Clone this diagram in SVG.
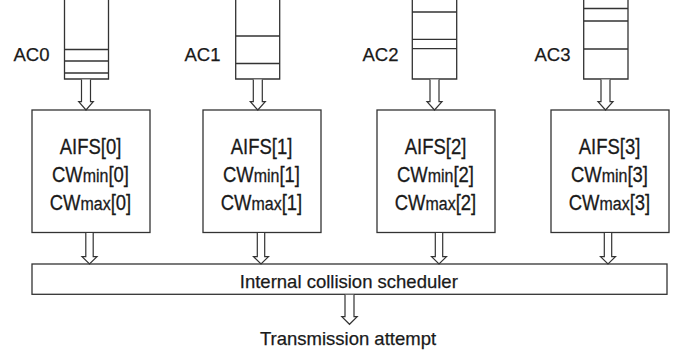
<svg xmlns="http://www.w3.org/2000/svg" width="679" height="356" viewBox="0 0 679 356">
<style>
.ln{fill:none;stroke:#333;stroke-width:1.3}
.bx{fill:#fff;stroke:#333;stroke-width:1.3}
.ar{fill:#fff;stroke:#333;stroke-width:1.2;stroke-linejoin:miter}
.t{font-family:"Liberation Sans",Arial,sans-serif;font-size:18.5px;fill:#1a1a1a;stroke:#1a1a1a;stroke-width:0.25}
.p{font-family:"Liberation Sans",Arial,sans-serif;font-size:22px;fill:#1a1a1a;stroke:#1a1a1a;stroke-width:0.3;text-anchor:middle}
.s{font-size:19px}
</style>
<rect width="679" height="356" fill="#fff"/>
<g id="queue0">
<path class="ln" d="M64.5,0V79H108.5V0M64.5,49.5H108.5M64.5,61H108.5M64.5,73H108.5"/>
<text class="t" x="49.5" y="60.5" text-anchor="end">AC0</text>
</g>
<g id="queue1">
<path class="ln" d="M235.7,0V79H279.7V0M235.7,36H279.7M235.7,63.5H279.7"/>
<text class="t" x="220.5" y="60.5" text-anchor="end">AC1</text>
</g>
<g id="queue2">
<path class="ln" d="M412.3,0V79H456.7V0M412.3,12H456.7M412.3,39.3H456.7M412.3,48.7H456.7"/>
<text class="t" x="398.5" y="60.5" text-anchor="end">AC2</text>
</g>
<g id="queue3">
<path class="ln" d="M583.7,0V79H628V0M583.7,8.5H628M583.7,21H628M583.7,49H628"/>
<text class="t" x="570.5" y="60.5" text-anchor="end">AC3</text>
</g>
<g id="box0">
<rect class="bx" x="32" y="110" width="118" height="122.5"/>
<g transform="translate(90.5,0) scale(0.84,1)">
<text class="p" x="0" y="154.5">AIFS[0]</text>
<text class="p" x="0" y="182.5">CW<tspan class="s">min</tspan>[0]</text>
<text class="p" x="0" y="210">CW<tspan class="s">max</tspan>[0]</text>
</g>
</g>
<g id="box1">
<rect class="bx" x="203" y="110" width="118" height="122.5"/>
<g transform="translate(261.5,0) scale(0.84,1)">
<text class="p" x="0" y="154.5">AIFS[1]</text>
<text class="p" x="0" y="182.5">CW<tspan class="s">min</tspan>[1]</text>
<text class="p" x="0" y="210">CW<tspan class="s">max</tspan>[1]</text>
</g>
</g>
<g id="box2">
<rect class="bx" x="377" y="110" width="118" height="122.5"/>
<g transform="translate(435.5,0) scale(0.84,1)">
<text class="p" x="0" y="154.5">AIFS[2]</text>
<text class="p" x="0" y="182.5">CW<tspan class="s">min</tspan>[2]</text>
<text class="p" x="0" y="210">CW<tspan class="s">max</tspan>[2]</text>
</g>
</g>
<g id="box3">
<rect class="bx" x="551" y="110" width="118" height="122.5"/>
<g transform="translate(609.5,0) scale(0.84,1)">
<text class="p" x="0" y="154.5">AIFS[3]</text>
<text class="p" x="0" y="182.5">CW<tspan class="s">min</tspan>[3]</text>
<text class="p" x="0" y="210">CW<tspan class="s">max</tspan>[3]</text>
</g>
</g>
<g id="scheduler">
<rect class="bx" x="32" y="264" width="635" height="30.3"/>
<text class="t" x="348.8" y="287.5" text-anchor="middle">Internal collision scheduler</text>
</g>
<g id="output">
<text class="t" x="348" y="345" text-anchor="middle">Transmission attempt</text>
</g>
<g id="connectors">
<path class="ar" d="M81.5,79.5V101.7H78.7L86,110L93.3,101.7H90.5V79.5"/>
<path class="ar" d="M253.3,79.5V101.7H250.3L257.8,110L265.3,101.7H262.3V79.5"/>
<path class="ar" d="M430,79.5V101.7H427L434.5,110L442,101.7H439V79.5"/>
<path class="ar" d="M601,79.5V101.7H598L605.5,110L613,101.7H610V79.5"/>
<path class="ar" d="M85.8,233V256.7H82L89.5,264L97,256.7H93.2V233"/>
<path class="ar" d="M257.3,233V256.7H253.5L261,264L268.5,256.7H264.7V233"/>
<path class="ar" d="M435.3,233V256.7H431.5L439,264L446.5,256.7H442.7V233"/>
<path class="ar" d="M604.3,233V256.7H600.5L608,264L615.5,256.7H611.7V233"/>
<path class="ar" d="M345,294.8V316.7H341.8L349.5,324.3L357.2,316.7H354V294.8"/>
</g>
</svg>
